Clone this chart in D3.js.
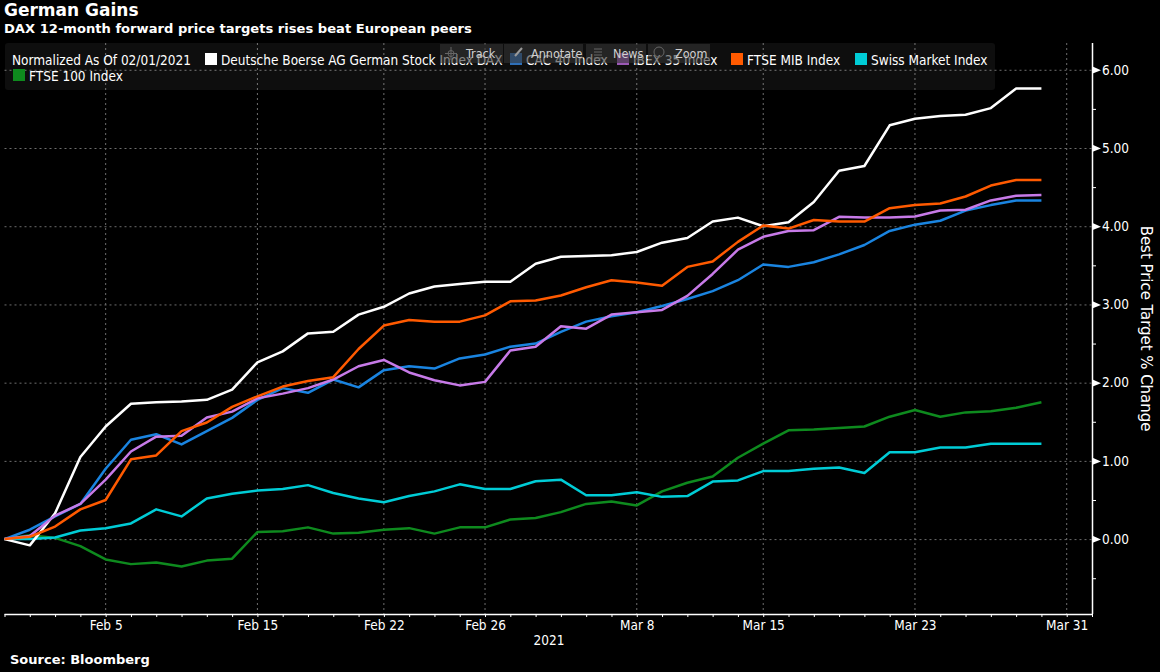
<!DOCTYPE html>
<html>
<head>
<meta charset="utf-8">
<script src="https://cdn.jsdelivr.net/npm/d3@7"></script>
<style>
  html, body { margin: 0; padding: 0; background: #000; }
  svg { display: block; }
  text { fill: #fff; }
  .lbl { font-family: "DejaVu Sans Condensed", "DejaVu Sans"; font-size: 13.5px; }
  .head { font-family: "DejaVu Sans"; font-weight: bold; }
</style>
</head>
<body>
<svg id="svg"></svg>
<script>
// Chart data
const tradingDays = [
  "Feb 1","Feb 2","Feb 3","Feb 4","Feb 5","Feb 8","Feb 9","Feb 10","Feb 11","Feb 12",
  "Feb 15","Feb 16","Feb 17","Feb 18","Feb 19","Feb 22","Feb 23","Feb 24","Feb 25","Feb 26",
  "Mar 1","Mar 2","Mar 3","Mar 4","Mar 5","Mar 8","Mar 9","Mar 10","Mar 11","Mar 12",
  "Mar 15","Mar 16","Mar 17","Mar 18","Mar 19","Mar 22","Mar 23","Mar 24","Mar 25","Mar 26",
  "Mar 29","Mar 30","Mar 31","Apr 1"
];
const dateLabels = ["Feb 5","Feb 15","Feb 22","Feb 26","Mar 8","Mar 15","Mar 23","Mar 31"];
const majorTicks = [0, 1, 2, 3, 4, 5, 6];
const minorTicks = [-0.5, 0.5, 1.5, 2.5, 3.5, 4.5, 5.5];

const dax = [0,-0.08,0.33,1.05,1.44,1.73,1.75,1.76,1.78,1.91,2.26,2.40,2.63,2.65,2.87,2.97,3.14,3.23,3.26,3.29,3.29,3.52,3.61,3.62,3.63,3.67,3.79,3.85,4.06,4.11,4.00,4.05,4.31,4.71,4.77,5.29,5.375,5.41,5.425,5.51,5.76,5.76];
const cac = [0,0.12,0.29,0.45,0.90,1.27,1.34,1.21,1.38,1.55,1.78,1.93,1.87,2.04,1.94,2.16,2.21,2.18,2.31,2.36,2.46,2.50,2.65,2.78,2.85,2.90,2.98,3.07,3.17,3.31,3.51,3.48,3.54,3.64,3.76,3.94,4.02,4.07,4.20,4.27,4.33,4.33];
const ibex = [0,0.04,0.30,0.45,0.76,1.12,1.31,1.32,1.555,1.63,1.80,1.86,1.93,2.04,2.21,2.29,2.13,2.03,1.965,2.01,2.41,2.46,2.72,2.69,2.87,2.90,2.93,3.11,3.39,3.70,3.865,3.94,3.95,4.12,4.11,4.11,4.125,4.20,4.21,4.33,4.39,4.40];
const mib = [0,0.03,0.16,0.38,0.50,1.02,1.07,1.38,1.49,1.69,1.825,1.95,2.02,2.07,2.43,2.73,2.80,2.78,2.78,2.86,3.04,3.05,3.115,3.22,3.31,3.28,3.24,3.48,3.55,3.80,4.01,3.97,4.08,4.06,4.06,4.23,4.27,4.29,4.38,4.52,4.59,4.59];
const smi = [0,0,0.02,0.11,0.14,0.20,0.38,0.29,0.52,0.58,0.62,0.64,0.69,0.59,0.52,0.47,0.55,0.61,0.70,0.64,0.64,0.74,0.76,0.56,0.56,0.60,0.54,0.55,0.735,0.75,0.87,0.87,0.90,0.915,0.845,1.11,1.11,1.17,1.17,1.22,1.22,1.22];
const ftse = [0,0.05,0.015,-0.09,-0.26,-0.32,-0.30,-0.35,-0.275,-0.25,0.09,0.10,0.15,0.07,0.08,0.12,0.14,0.07,0.15,0.15,0.25,0.27,0.345,0.45,0.48,0.43,0.61,0.72,0.80,1.04,1.22,1.39,1.40,1.42,1.44,1.565,1.65,1.565,1.62,1.635,1.68,1.75];

const seriesNames = ["Deutsche Boerse AG German Stock Index DAX","CAC 40 Index","IBEX 35 Index","FTSE MIB Index","Swiss Market Index","FTSE 100 Index"];
const seriesValues = [dax, cac, ibex, mib, smi, ftse];
const lineColors = ["#ffffff","#1a84e0","#c77ae8","#ff5a00","#00ccd6","#0e8a1e"];
const swatchColors = ["#ffffff","#2e6fb8","#9b59b6","#ff5a00","#00ccd6","#0e8a1e"];
const drawOrder = [5, 4, 0, 1, 2, 3];

// Dimensions
const width = 1160, height = 672;
const plotLeft = 4.5, plotRight = 1092, plotTop = 43, plotBottom = 614;

const svg = d3.select("#svg").attr("width", width).attr("height", height);

const x = d3.scalePoint().domain(tradingDays).range([plotLeft, plotRight]);
const y = d3.scaleLinear().domain([-0.9576, 6.3424]).range([plotBottom, plotTop]);

// Grid
const gridColor = "#6e6e6e";
svg.append("g").selectAll("line").data(majorTicks).enter().append("line")
  .attr("x1", plotLeft).attr("x2", plotRight)
  .attr("y1", d => y(d) + 0.5).attr("y2", d => y(d) + 0.5)
  .attr("stroke", gridColor).attr("stroke-dasharray", "2,3");
svg.append("g").selectAll("line").data(dateLabels).enter().append("line")
  .attr("x1", d => x(d)).attr("x2", d => x(d))
  .attr("y1", plotTop).attr("y2", plotBottom)
  .attr("stroke", gridColor).attr("stroke-dasharray", "2,3");

// Lines
const line = d3.line().x((d, i) => x(tradingDays[i])).y(d => y(d));
svg.append("g").selectAll("path").data(drawOrder).enter().append("path")
  .attr("d", k => line(seriesValues[k]))
  .attr("fill", "none")
  .attr("stroke", k => lineColors[k])
  .attr("stroke-width", 2.5)
  .attr("stroke-linejoin", "round");

// X axis
const xAxis = svg.append("g").attr("class", "lbl")
  .attr("transform", `translate(0,${plotBottom})`)
  .call(d3.axisBottom(x).tickValues(tradingDays).tickSize(3).tickPadding(3)
    .tickFormat(d => dateLabels.includes(d) ? d : ""));
xAxis.selectAll("line").attr("stroke", "#fff");
xAxis.select(".domain").attr("stroke", "#fff").attr("stroke-width", 1.5).attr("d", `M${plotLeft},0.5H${plotRight}`);
xAxis.selectAll("text").attr("font-size", 13.5).attr("font-family", "DejaVu Sans Condensed").style("fill", "#fff");

svg.append("text").attr("class", "lbl").attr("x", 549).attr("y", 645).attr("text-anchor", "middle").text("2021");

// Y axis
const yAxis = svg.append("g").attr("class", "lbl")
  .attr("transform", `translate(${plotRight},0)`)
  .call(d3.axisRight(y).tickValues(minorTicks.concat(majorTicks)).tickSize(4).tickPadding(6)
    .tickFormat(d => majorTicks.includes(d) ? d3.format(".2f")(d) : ""));
yAxis.selectAll("line").attr("stroke", "#fff");
yAxis.select(".domain").attr("stroke", "#fff").attr("stroke-width", 1.5).attr("d", `M0.5,${plotTop}V${plotBottom}`);
yAxis.selectAll("text").attr("font-size", 13.5).attr("font-family", "DejaVu Sans Condensed").style("fill", "#fff");
yAxis.append("g").selectAll("path").data(majorTicks).enter().append("path")
  .attr("d", d => `M0,${y(d) - 3.5}L9,${y(d) + 0.5}L0,${y(d) + 4}Z`)
  .attr("fill", "#fff");

svg.append("text").attr("class", "lbl")
  .attr("transform", "translate(1141,328.5) rotate(90)")
  .attr("text-anchor", "middle")
  .style("font-size", "16.6px")
  .text("Best Price Target % Change");

// Titles
svg.append("text").attr("class", "head").attr("x", 4).attr("y", 16).style("font-size", "17px").text("German Gains");
svg.append("text").attr("class", "head").attr("x", 4).attr("y", 33).style("font-size", "13.1px").text("DAX 12-month forward price targets rises beat European peers");
svg.append("text").attr("class", "head").attr("x", 10).attr("y", 664).style("font-size", "13px").text("Source:  Bloomberg");

// Legend
svg.append("rect").attr("x", 5).attr("y", 43).attr("width", 990).attr("height", 47).attr("rx", 3)
  .attr("fill", "#fff").attr("fill-opacity", 0.055);
const legendX = [205, 510, 617, 731, 855, 13];
const legendY = [53, 53, 53, 53, 53, 69];
svg.append("text").attr("class", "lbl").attr("x", 12).attr("y", 65).text("Normalized As Of 02/01/2021");
const legend = svg.append("g").selectAll("g").data(seriesNames).enter().append("g")
  .attr("transform", (d, i) => `translate(${legendX[i]},${legendY[i]})`);
legend.append("rect").attr("width", 12).attr("height", 12).attr("fill", (d, i) => swatchColors[i]);
legend.append("text").attr("class", "lbl").attr("x", 16).attr("y", 12).text(d => d);

// Toolbar overlay
const toolNames = ["Track", "Annotate", "News", "Zoom"];
const toolX = [440, 504, 586, 648];
const toolW = [63, 79, 60, 62];
const toolTextX = [26, 27, 27, 27];
const tools = svg.append("g").selectAll("g").data(toolNames).enter().append("g")
  .attr("transform", (d, i) => `translate(${toolX[i]},44)`);
tools.append("rect").attr("width", (d, i) => toolW[i]).attr("height", 19)
  .attr("fill", "#333").attr("fill-opacity", 0.6);
tools.append("text").attr("class", "lbl").attr("x", (d, i) => toolTextX[i]).attr("y", 14)
  .style("fill", "#d0d0d0").style("font-size", "12.5px").text(d => d);

// Toolbar icons
const icons = svg.append("g").attr("stroke", "#666").attr("fill", "none");
icons.append("path").attr("d", "M451,47V60M445,53.5H457M448,53.5a3,3 0 1,0 6,0a3,3 0 1,0 -6,0");
icons.append("path").attr("d", "M515,56L522,48").attr("stroke", "#999").attr("stroke-width", 2);
icons.append("path").attr("d", "M594,49H602M594,52H602M594,55H602M594,58H602");
icons.append("circle").attr("cx", 659).attr("cy", 52).attr("r", 5);
</script>
</body>
</html>
